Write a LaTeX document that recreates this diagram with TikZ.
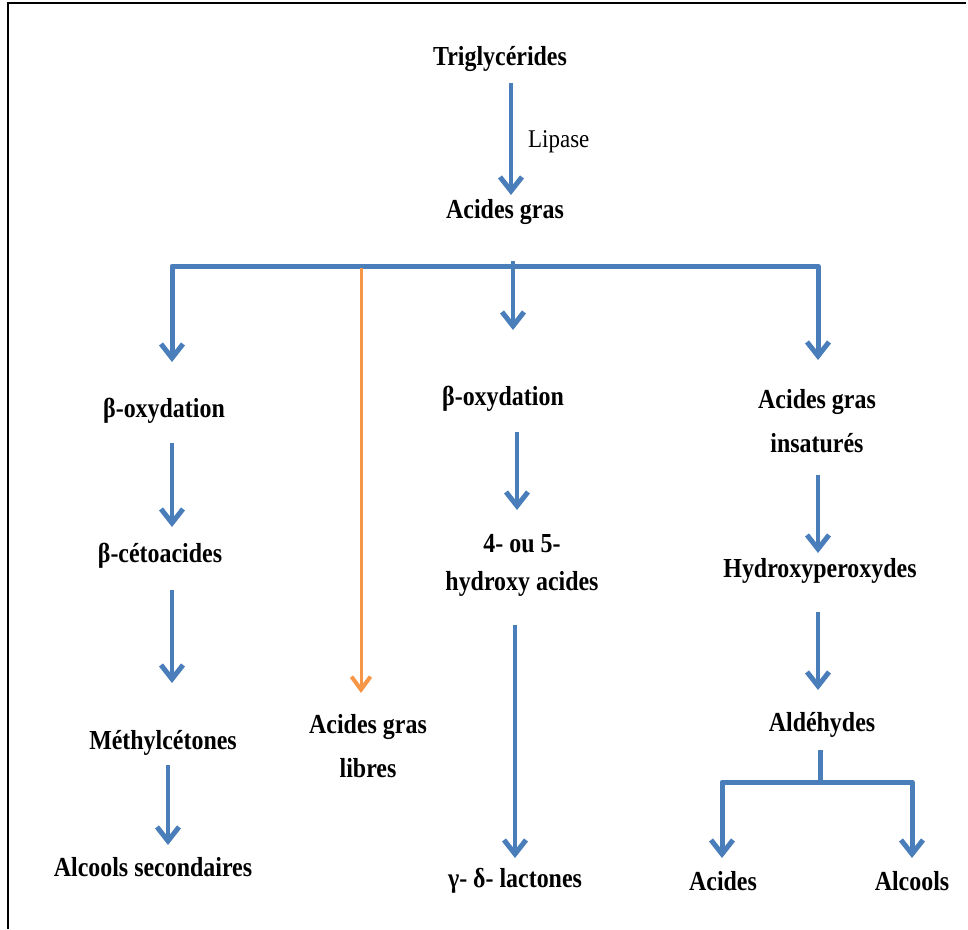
\documentclass[tikz,border=0pt]{standalone}
\usepackage{fontspec}
\setmainfont{Liberation Serif}
\newfontfamily\lblfont{Liberation Serif Bold}[FakeStretch=0.87]
\newfontfamily\lipfont{Liberation Serif}[FakeStretch=0.9]
\usetikzlibrary{arrows.meta}
\definecolor{myblue}{HTML}{4A7EBB}
\definecolor{myorange}{HTML}{F79646}
\newcommand{\twol}[3]{{\fontsize{27.5}{#3}\selectfont\begin{tabular}[t]{@{}c@{}}#1\\#2\end{tabular}}}
\tikzset{
  lbl/.style={font=\lblfont\fontsize{27.5}{30}\selectfont, inner sep=0pt, anchor=base},
  arr/.style={draw=myblue, line width=4pt, line join=round, -{Straight Barb[length=14pt,width=22pt,line width=5pt]}},
  oarr/.style={draw=myorange, line width=3pt, -{Straight Barb[length=13pt,width=19pt,line width=4pt]}},
  barr/.style={arr, line width=5pt},
  bline/.style={draw=myblue, line width=5pt, line join=round},
}
\renewcommand{\arraystretch}{1}
\begin{document}
\begin{tikzpicture}[x=1pt,y=-1pt]
\useasboundingbox (0,0) rectangle (968,929);
\draw[line width=2pt] (8,929) -- (8,3) -- (966,3);

% nodes
\node[lbl] (tri) at (500,65) {Triglycérides};
\node[font=\lipfont\fontsize{25.5}{28}\selectfont, inner sep=0pt, anchor=base west] (lip) at (528,147) {Lipase};
\node[lbl] (ag) at (505,218) {Acides gras};
\node[lbl] (bo1) at (164,417) {β-oxydation};
\node[lbl] (bc) at (160,562) {β-cétoacides};
\node[lbl] (me) at (163,749) {Méthylcétones};
\node[lbl] (as) at (153,876) {Alcools secondaires};
\node[lbl] (agl) at (368,733) {\twol{Acides gras}{libres}{44}};
\node[lbl] (bo2) at (503,405) {β-oxydation};
\node[lbl] (hy) at (522,552) {\twol{4- ou 5-}{hydroxy acides}{38}};
\node[lbl] (lac) at (515,887) {γ- δ- lactones};
\node[lbl] (agi) at (817,408) {\twol{Acides gras}{insaturés}{44}};
\node[lbl] (hp) at (820,577) {Hydroxyperoxydes};
\node[lbl] (ald) at (822,731) {Aldéhydes};
\node[lbl] (aci) at (723,890) {Acides};
\node[lbl] (alc) at (912,890) {Alcools};

% top
\draw[arr] ([xshift=11pt,yshift=-18pt]tri.base) -- ([xshift=6pt,yshift=23pt]ag.base);

% main bar
\coordinate (jm) at ([xshift=8pt,yshift=-48pt]ag.base);
\coordinate (jo) at (jm -| agl.base);
\draw[barr] (jm) -| ([xshift=8pt,yshift=55pt]bo1.base);
\draw[barr] (jm) -| ([xshift=1pt,yshift=48pt]agi.base);
\draw[arr] ([yshift=5pt]jm) -- ([xshift=10pt,yshift=75pt]bo2.base);
\draw[oarr] ([xshift=-7pt,yshift=-2pt]jo) -- ([xshift=-7pt,yshift=40pt]agl.base);

% left column
\draw[arr] ([xshift=8pt,yshift=-26pt]bo1.base) -- ([xshift=12pt,yshift=35pt]bc.base);
\draw[arr] ([xshift=12pt,yshift=-28pt]bc.base) -- ([xshift=9pt,yshift=66pt]me.base);
\draw[arr] ([xshift=5pt,yshift=-16pt]me.base) -- ([xshift=15pt,yshift=31pt]as.base);

% middle column
\draw[arr] ([xshift=14pt,yshift=-27pt]bo2.base) -- ([xshift=-5pt,yshift=42pt]hy.base);
\draw[arr] ([xshift=-7pt,yshift=-73pt]hy.base) -- ([xshift=0pt,yshift=29pt]lac.base);

% right column
\draw[arr] ([xshift=1pt,yshift=-67pt]agi.base) -- ([xshift=-2pt,yshift=24pt]hp.base);
\draw[arr] ([xshift=-2pt,yshift=-35pt]hp.base) -- ([xshift=-4pt,yshift=41pt]ald.base);
\coordinate (aj) at ([xshift=-2pt,yshift=-51pt]ald.base);
\draw[bline] ([xshift=-2pt,yshift=-19pt]ald.base) -- (aj);
\draw[barr] (aj) -| ([xshift=-1pt,yshift=32pt]aci.base);
\draw[barr] (aj) -| ([yshift=32pt]alc.base);
\end{tikzpicture}
\end{document}
